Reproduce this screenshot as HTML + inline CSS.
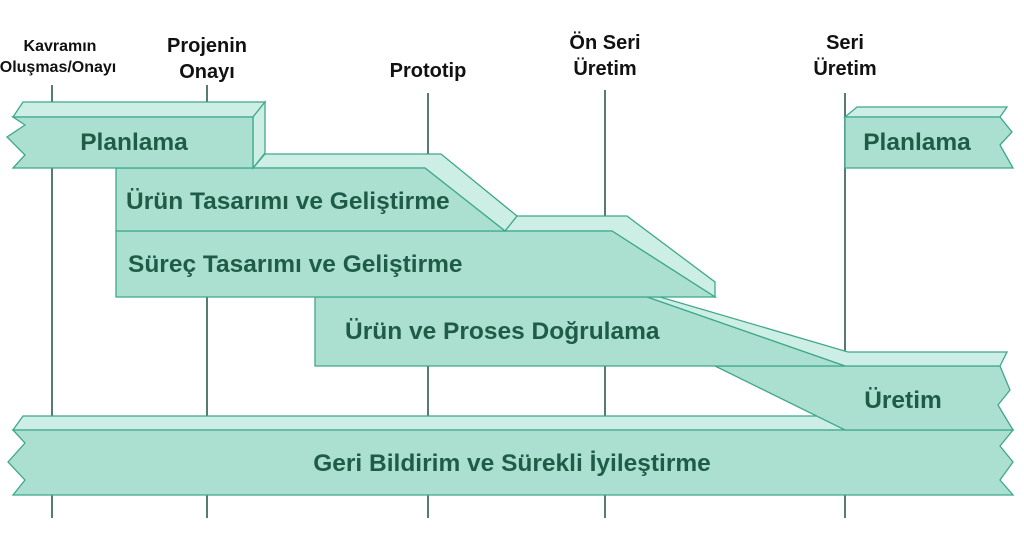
<!DOCTYPE html>
<html><head><meta charset="utf-8"><style>
html,body{margin:0;padding:0;background:#fff;}
svg{display:block;}
text{font-family:"Liberation Sans",sans-serif;font-weight:bold;}
.f{fill:#abe0d0;stroke:#3fa88a;stroke-width:1.3;}
.t{fill:#cdeee4;stroke:#3fa88a;stroke-width:1.3;}
.l{fill:#1f5c48;font-size:24.5px;}
.h{fill:#111;font-size:20px;text-anchor:middle;}
</style></head><body>
<svg width="1024" height="538" viewBox="0 0 1024 538">
<g stroke="#2c5a4c" stroke-width="1.6">
<line x1="52" y1="85" x2="52" y2="518"/>
<line x1="207" y1="85" x2="207" y2="518"/>
<line x1="428" y1="93" x2="428" y2="518"/>
<line x1="605" y1="90" x2="605" y2="518"/>
<line x1="845" y1="93" x2="845" y2="518"/>
</g>
<text x="60" y="51" class="h" style="font-size:16px">Kavramın</text>
<text x="58" y="72" class="h" style="font-size:16px">Oluşmas/Onayı</text>
<text x="207" y="52" class="h">Projenin</text>
<text x="207" y="78" class="h">Onayı</text>
<text x="428" y="77" class="h">Prototip</text>
<text x="605" y="49" class="h">Ön Seri</text>
<text x="605" y="75" class="h">Üretim</text>
<text x="845" y="49" class="h">Seri</text>
<text x="845" y="75" class="h">Üretim</text>

<polygon class="t" points="13,430 23,416 840,416 845,430"/>
<polygon class="f" points="13,430 1013,430 1000,446 1013,462 1000,480 1013,495 13,495 25,480 8,462 25,443"/>
<text x="512" y="471" class="l" text-anchor="middle">Geri Bildirim ve Sürekli İyileştirme</text>

<polygon class="f" points="715,366 1000,366 1010,390 998,405 1013,430 845,430"/>
<text x="903" y="408" class="l" text-anchor="middle">Üretim</text>

<polygon class="t" points="647,297 660,297 848,352 1007,352 1000,366 845,366"/>
<polygon class="f" points="315,297 647,297 845,366 315,366"/>
<text x="345" y="339" class="l">Ürün ve Proses Doğrulama</text>

<polygon class="t" points="505,231 517,216 627,216 715,282 715,297 612,231"/>
<polygon class="f" points="116,231 612,231 715,297 116,297"/>
<text x="128" y="272" class="l">Süreç Tasarımı ve Geliştirme</text>

<polygon class="t" points="253,168 265,154 441,154 517,216 505,231 425,168"/>
<polygon class="f" points="116,168 425,168 505,231 116,231"/>
<text x="126" y="209" class="l">Ürün Tasarımı ve Geliştirme</text>

<polygon class="t" points="13,117 23,102 265,102 253,117"/>
<polygon class="t" points="253,117 265,102 265,153 253,168"/>
<polygon class="f" points="13,117 253,117 253,168 13,168 25,155 7,137 25,125"/>
<text x="134" y="150" class="l" text-anchor="middle">Planlama</text>

<polygon class="t" points="845,117 857,107 1007,107 1000,117"/>
<polygon class="f" points="845,117 1000,117 1012,132 1000,145 1013,168 845,168"/>
<text x="917" y="150" class="l" text-anchor="middle">Planlama</text>
</svg>
</body></html>
